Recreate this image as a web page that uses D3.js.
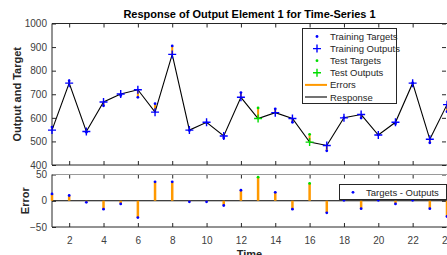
<!DOCTYPE html>
<html>
<head>
<meta charset="utf-8">
<script src="https://cdn.jsdelivr.net/npm/d3@7"></script>
<style>
  html, body { margin: 0; padding: 0; background: #fff; overflow: hidden; }
  text { font-family: "Liberation Sans", Arial, Helvetica, sans-serif; }
</style>
</head>
<body>
<div id="chart"></div>
<script>
// values
var timeSteps = [1, 2, 3, 4, 5, 6, 7, 8, 9, 10, 11, 12, 13, 14, 15, 16, 17, 18, 19, 20, 21, 22, 23, 24];
var outputs = [548, 747, 542, 667, 701, 719, 624, 869, 548, 581, 523, 687, 597, 622, 597, 497, 483, 600, 614, 527, 581, 747, 509, 656];
var targets = [561, 757, 539, 651, 695, 687, 660, 905, 546, 579, 514, 707, 642, 638, 581, 530, 460, 601, 599, 528, 575, 748, 494, 626];
var testSteps = [13, 16];
var xTicks = [2, 4, 6, 8, 10, 12, 14, 16, 18, 20, 22, 24];
var yTicksTop = [400, 500, 600, 700, 800, 900, 1000];
var yTicksErr = [-50, 0, 50];

var W = 447, H = 255;
var axisColor = "#262626";
var orange = "#ff9900";
var blue = "#0000ff";
var green = "#00dd00";

var data = timeSteps.map(function (t, i) {
    return {
        t: t,
        out: outputs[i],
        tgt: targets[i],
        err: targets[i] - outputs[i],
        test: testSteps.indexOf(t) >= 0
    };
});

var svg = d3.select("#chart").append("svg")
    .attr("width", W)
    .attr("height", H);

var left = 52, right = 447;
var x = d3.scaleLinear().domain([1, 24]).range([left, right]);
var yTop = d3.scaleLinear().domain([400, 1000]).range([165, 23.5]);
var yErr = d3.scaleLinear().domain([-50, 50]).range([227, 174.5]);

// ****************** title ***************************
svg.append("text")
    .attr("x", (left + right) / 2)
    .attr("y", 18)
    .attr("text-anchor", "middle")
    .style("font-size", "11px")
    .style("font-weight", "bold")
    .style("fill", "#000")
    .text("Response of Output Element 1 for Time-Series 1");

// ****************** top axes ***************************
var gTop = svg.append("g");

function drawBox(g, y, yTicks, topColor) {
    var y0 = y.range()[0], y1 = y.range()[1];
    // x ticks (bottom and top, inward)
    g.append("g")
        .attr("transform", "translate(0," + y0 + ")")
        .call(d3.axisBottom(x).tickValues(xTicks).tickSize(-4).tickFormat(""))
        .call(function (a) { a.select(".domain").remove(); a.selectAll("line").attr("stroke", axisColor); });
    g.append("g")
        .attr("transform", "translate(0," + y1 + ")")
        .call(d3.axisTop(x).tickValues(xTicks).tickSize(-4).tickFormat(""))
        .call(function (a) { a.select(".domain").remove(); a.selectAll("line").attr("stroke", axisColor); });
    // y ticks left with labels
    g.append("g")
        .attr("transform", "translate(" + left + ",0)")
        .call(d3.axisLeft(y).tickValues(yTicks).tickSize(-4).tickPadding(5).tickFormat(d3.format("d")))
        .call(function (a) {
            a.select(".domain").remove();
            a.selectAll("line").attr("stroke", axisColor);
            a.selectAll("text").style("font-size", "10px").style("fill", "#404040");
        });
    // y ticks right
    g.append("g")
        .attr("transform", "translate(" + (right - 1) + ",0)")
        .call(d3.axisRight(y).tickValues(yTicks).tickSize(-4).tickFormat(""))
        .call(function (a) { a.select(".domain").remove(); a.selectAll("line").attr("stroke", axisColor); });
    // box
    g.append("line").attr("x1", left).attr("x2", right).attr("y1", y0).attr("y2", y0)
        .attr("stroke", axisColor);
    g.append("line").attr("x1", left).attr("x2", right).attr("y1", y1).attr("y2", y1)
        .attr("stroke", topColor);
    g.append("line").attr("x1", left).attr("x2", left).attr("y1", y0).attr("y2", y1)
        .attr("stroke", axisColor);
}

drawBox(gTop, yTop, yTicksTop, axisColor);

// errors in top plot
gTop.selectAll("line.err")
    .data(data)
    .enter().append("line")
    .attr("class", "err")
    .attr("x1", function (d) { return x(d.t); })
    .attr("x2", function (d) { return x(d.t); })
    .attr("y1", function (d) { return yTop(d.out); })
    .attr("y2", function (d) { return yTop(d.tgt); })
    .attr("stroke", orange)
    .attr("stroke-width", 2);

// targets (dots)
gTop.selectAll("circle.tgt")
    .data(data)
    .enter().append("circle")
    .attr("class", "tgt")
    .attr("cx", function (d) { return x(d.t); })
    .attr("cy", function (d) { return yTop(d.tgt); })
    .attr("r", 1.4)
    .attr("fill", function (d) { return d.test ? green : blue; });

// response line
var line = d3.line()
    .x(function (d) { return x(d.t); })
    .y(function (d) { return yTop(d.out); });

gTop.append("path")
    .datum(data)
    .attr("d", line)
    .attr("fill", "none")
    .attr("stroke", "#000")
    .attr("stroke-width", 1.1);

// outputs (+ markers)
function plusPath(px, py, s) {
    return "M" + (px - s) + "," + py + "H" + (px + s) + "M" + px + "," + (py - s) + "V" + (py + s);
}
gTop.selectAll("path.out")
    .data(data)
    .enter().append("path")
    .attr("class", "out")
    .attr("d", function (d) { return plusPath(x(d.t), yTop(d.out), 4); })
    .attr("stroke", function (d) { return d.test ? green : blue; })
    .attr("stroke-width", 1.4)
    .attr("fill", "none");

// y label
svg.append("text")
    .attr("transform", "translate(21," + ((yTop.range()[0] + yTop.range()[1]) / 2) + ") rotate(-90)")
    .attr("text-anchor", "middle")
    .style("font-size", "11px")
    .style("font-weight", "bold")
    .style("fill", "#262626")
    .text("Output and Target");

// top legend
var legTop = svg.append("g");
legTop.append("rect")
    .attr("x", 302.5).attr("y", 28.5)
    .attr("width", 94).attr("height", 75)
    .attr("fill", "#fff")
    .attr("stroke", "#262626")
    .attr("stroke-width", 1);

var legItems = [
    { label: "Training Targets", kind: "dot", color: blue },
    { label: "Training Outputs", kind: "plus", color: blue },
    { label: "Test Targets", kind: "dot", color: green },
    { label: "Test Outputs", kind: "plus", color: green },
    { label: "Errors", kind: "line", color: orange },
    { label: "Response", kind: "line", color: "#000" }
];
legItems.forEach(function (it, i) {
    var cy = 36.5 + i * 12.1;
    if (it.kind === "dot") {
        legTop.append("circle").attr("cx", 317).attr("cy", cy).attr("r", 1.4).attr("fill", it.color);
    } else if (it.kind === "plus") {
        legTop.append("path").attr("d", plusPath(317, cy, 4))
            .attr("stroke", it.color).attr("stroke-width", 1.4);
    } else {
        legTop.append("line").attr("x1", 305).attr("x2", 327).attr("y1", cy).attr("y2", cy)
            .attr("stroke", it.color).attr("stroke-width", it.color === orange ? 2 : 1.1);
    }
    legTop.append("text")
        .attr("x", 330).attr("y", cy + 3.5)
        .style("font-size", "9.5px")
        .style("fill", "#262626")
        .text(it.label);
});

// ****************** error axes ***************************
var gErr = svg.append("g");
drawBox(gErr, yErr, yTicksErr, "#9a9a9a");

// zero line
gErr.append("line")
    .attr("x1", left).attr("x2", right)
    .attr("y1", yErr(0)).attr("y2", yErr(0))
    .attr("stroke", "#000").attr("stroke-width", 1.1);

gErr.selectAll("line.ebar")
    .data(data)
    .enter().append("line")
    .attr("class", "ebar")
    .attr("x1", function (d) { return x(d.t); })
    .attr("x2", function (d) { return x(d.t); })
    .attr("y1", yErr(0))
    .attr("y2", function (d) { return yErr(d.err); })
    .attr("stroke", orange)
    .attr("stroke-width", 2.5);

gErr.selectAll("circle.edot")
    .data(data)
    .enter().append("circle")
    .attr("class", "edot")
    .attr("cx", function (d) { return x(d.t); })
    .attr("cy", function (d) { return yErr(d.err); })
    .attr("r", 1.4)
    .attr("fill", function (d) { return d.test ? green : blue; });

// x tick labels
svg.append("g")
    .attr("transform", "translate(0," + yErr.range()[0] + ")")
    .call(d3.axisBottom(x).tickValues(xTicks).tickSize(0).tickPadding(10).tickFormat(d3.format("d")))
    .call(function (a) {
        a.select(".domain").remove();
        a.selectAll("text").style("font-size", "10px").style("fill", "#404040");
    });

svg.append("text")
    .attr("transform", "translate(29," + ((yErr.range()[0] + yErr.range()[1]) / 2) + ") rotate(-90)")
    .attr("text-anchor", "middle")
    .style("font-size", "11px")
    .style("font-weight", "bold")
    .style("fill", "#262626")
    .text("Error");

svg.append("text")
    .attr("x", (left + right) / 2)
    .attr("y", 258)
    .attr("text-anchor", "middle")
    .style("font-size", "11px")
    .style("font-weight", "bold")
    .style("fill", "#262626")
    .text("Time");

// error legend
var legErr = svg.append("g");
legErr.append("rect")
    .attr("x", 339.5).attr("y", 184.5)
    .attr("width", 107).attr("height", 15)
    .attr("fill", "#fff")
    .attr("stroke", "#262626");
legErr.append("circle").attr("cx", 353).attr("cy", 192.3).attr("r", 1.4).attr("fill", blue);
legErr.append("text")
    .attr("x", 366).attr("y", 195.6)
    .style("font-size", "9.5px")
    .style("fill", "#262626")
    .text("Targets - Outputs");
</script>
</body>
</html>
